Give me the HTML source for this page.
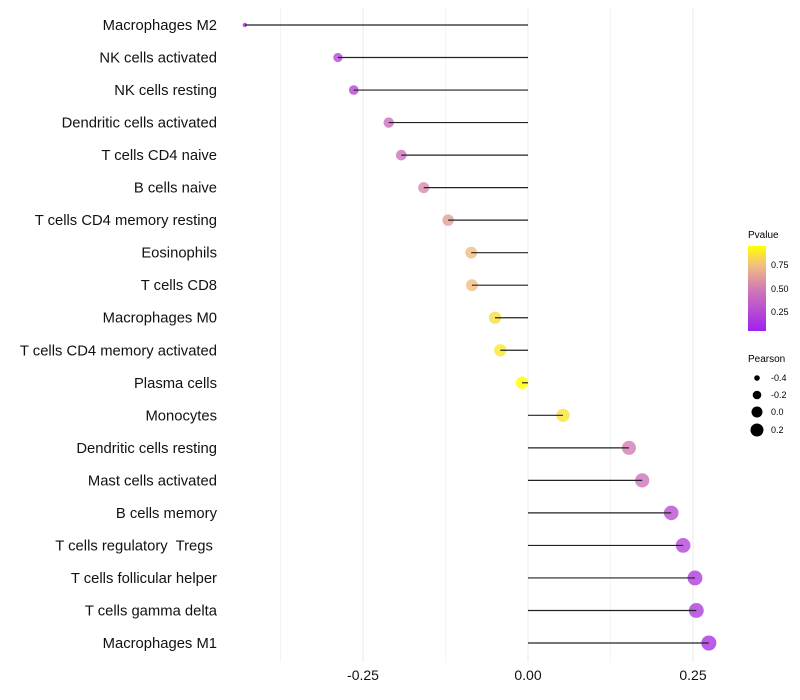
<!DOCTYPE html>
<html><head><meta charset="utf-8"><style>
body{margin:0;background:#fff;font-family:"Liberation Sans",sans-serif}
svg{display:block}
text{white-space:pre}
</style></head><body>
<svg id="chart" width="800" height="700">
<defs>
<linearGradient id="pg" x1="0" y1="1" x2="0" y2="0">
<stop offset="0" stop-color="#a020f0"/><stop offset="0.5" stop-color="#d27cb4"/><stop offset="0.78" stop-color="#f3c07e"/><stop offset="1" stop-color="#ffff00"/>
</linearGradient>
</defs>
<g id="grid"></g><g id="marks"></g><g id="labels"></g>
<g font-size="9">
<text x="748" y="238" font-size="10">Pvalue</text>
<rect x="748" y="246" width="18" height="85" fill="url(#pg)"/>
<text x="771" y="268">0.75</text>
<text x="771" y="292">0.50</text>
<text x="771" y="315">0.25</text>
</g>
<g font-size="9">
<text x="748" y="362" font-size="10">Pearson</text>
<circle cx="757" cy="378" r="2.8"/><text x="771" y="381">-0.4</text>
<circle cx="757" cy="395" r="4.3"/><text x="771" y="398">-0.2</text>
<circle cx="757" cy="412" r="5.5"/><text x="771" y="415">0.0</text>
<circle cx="757" cy="430" r="6.5"/><text x="771" y="433">0.2</text>
</g>
</svg>
<script>
const categories=["Macrophages M2","NK cells activated","NK cells resting","Dendritic cells activated","T cells CD4 naive","B cells naive","T cells CD4 memory resting","Eosinophils","T cells CD8","Macrophages M0","T cells CD4 memory activated","Plasma cells","Monocytes","Dendritic cells resting","Mast cells activated","B cells memory","T cells regulatory  Tregs ","T cells follicular helper","T cells gamma delta","Macrophages M1"];
const pearson=[-0.429,-0.288,-0.264,-0.211,-0.192,-0.158,-0.121,-0.086,-0.085,-0.05,-0.042,-0.009,0.053,0.153,0.173,0.217,0.235,0.253,0.255,0.274];
const pvalues=[0.02,0.22,0.2,0.42,0.45,0.55,0.65,0.76,0.76,0.88,0.92,1.0,0.9,0.5,0.45,0.25,0.2,0.15,0.15,0.1];
const xTicks=[-0.25,0,0.25];
const xTickLabels=["-0.25","0.00","0.25"];
const NS="http://www.w3.org/2000/svg";
const x=v=>528+v*660;
const y=i=>25+i*(618/(categories.length-1));
const r=v=>2+5.2*Math.sqrt(Math.max(0,(v+0.43)/0.7))+0.3*Math.min(1,(v+0.43)*20);
function lerp(a,b,t){return a.map((c,i)=>Math.round(c+(b[i]-c)*t));}
const stops=[[0,[160,32,240]],[0.5,[210,124,180]],[0.78,[243,192,126]],[1,[255,255,0]]];
function col(p){for(let k=0;k<stops.length-1;k++){const [a,ca]=stops[k],[b,cb]=stops[k+1];if(p<=b){const c=lerp(ca,cb,(p-a)/(b-a));return `rgb(${c})`;}}return 'rgb(255,255,0)';}
function mk(tag,attrs,parent){const e=document.createElementNS(NS,tag);for(const k in attrs)e.setAttribute(k,attrs[k]);parent.appendChild(e);return e;}
const grid=document.getElementById('grid'),marks=document.getElementById('marks'),labels=document.getElementById('labels');
[-0.375,-0.25,-0.125,0,0.125,0.25].forEach(v=>{const l=mk('line',{x1:x(v),x2:x(v),y1:8,y2:662,stroke:'#ebebeb','stroke-width':v%0.25===0?1.1:0.6},grid);

});
xTicks.forEach((v,i)=>{const t=mk('text',{x:x(v),y:680,'text-anchor':'middle','font-size':14,fill:'#111'},labels);t.textContent=xTickLabels[i];

});
categories.forEach((c,i)=>{
const t=mk('text',{x:217,y:y(i)+5,'text-anchor':'end','font-size':14.8,fill:'#111'},labels);t.textContent=c;


const d=mk('circle',{cx:x(pearson[i]),cy:y(i),r:r(pearson[i]),fill:col(pvalues[i]),'fill-opacity':0.8},marks);


const l=mk('line',{x1:x(0),x2:x(pearson[i]),y1:y(i),y2:y(i),stroke:'#222','stroke-width':1.2},marks);


});
</script>
</body></html>
